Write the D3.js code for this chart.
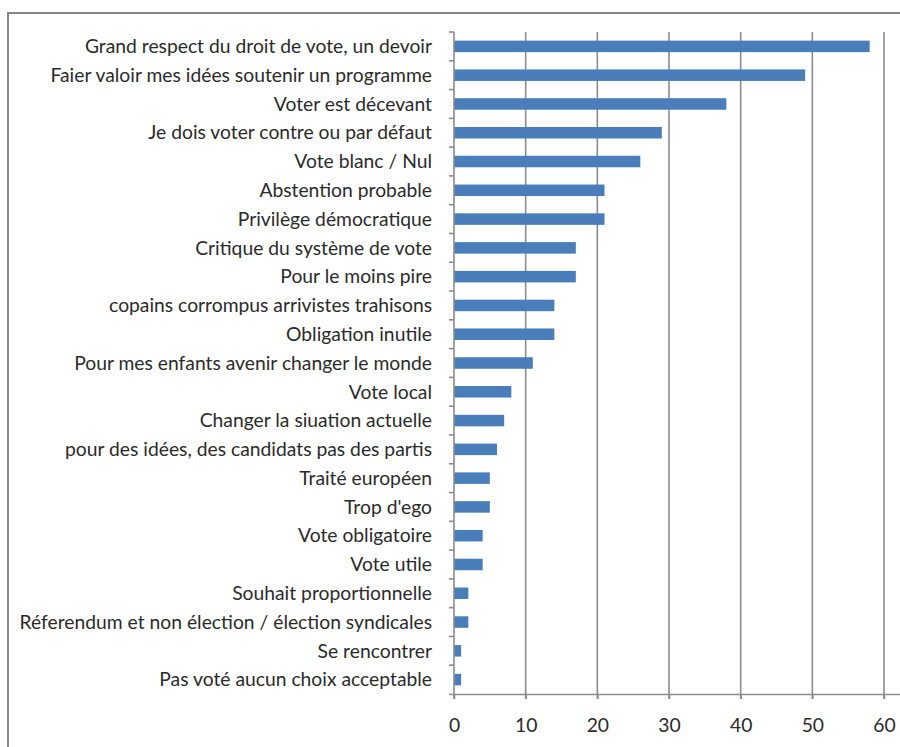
<!DOCTYPE html>
<html>
<head>
<meta charset="utf-8">
<script src="https://cdn.jsdelivr.net/npm/d3@7"></script>
<style>
  body { margin: 0; background: #fff; }
  svg { display: block; }
  .lbl { font-family: Lato, sans-serif; font-size: 19.3px; fill: #2b2b2b; }
</style>
</head>
<body>
<svg id="graph" width="900" height="747"></svg>
<script>
(function() {
// categories top to bottom
const categories = [
  'Grand respect du droit de vote, un devoir',
  'Faier valoir mes  idées soutenir un programme',
  'Voter est décevant',
  'Je dois voter contre ou par défaut',
  'Vote blanc / Nul',
  'Abstention probable',
  'Privilège démocratique',
  'Critique du système de vote',
  'Pour le moins pire',
  'copains corrompus arrivistes trahisons',
  'Obligation inutile',
  'Pour mes enfants avenir changer le monde',
  'Vote local',
  'Changer la siuation actuelle',
  'pour des idées, des candidats  pas des partis',
  'Traité européen',
  "Trop d'ego",
  'Vote obligatoire',
  'Vote utile',
  'Souhait proportionnelle',
  'Réferendum et non élection / élection syndicales',
  'Se rencontrer',
  'Pas voté  aucun choix acceptable'
];
const values = [58, 49, 38, 29, 26, 21, 21, 17, 17, 14, 14, 11, 8, 7, 6, 5, 5, 4, 4, 2, 2, 1, 1];
const x_ticks = [0, 10, 20, 30, 40, 50, 60];

const svg = d3.select('#graph');
const left = 454, right = 884, top = 32, bottom = 694;

// frame
svg.append('path')
  .attr('d', 'M8,747 V13 H900')
  .attr('fill', 'none')
  .attr('stroke', '#858585')
  .attr('stroke-width', 2);

const x = d3.scaleLinear().domain([0, 60]).range([left, right]);
const y = d3.scaleBand().domain(categories).range([top, bottom]).paddingInner(0.6).paddingOuter(0.3);
const step = y.step();

// gridlines
svg.append('g')
  .selectAll('line')
  .data(x_ticks.slice(1))
  .join('line')
  .attr('x1', d => x(d)).attr('x2', d => x(d))
  .attr('y1', top).attr('y2', bottom + 5)
  .attr('stroke', '#8c8c8c')
  .attr('stroke-width', 1.6);

// bars
svg.append('g')
  .selectAll('rect')
  .data(values)
  .join('rect')
  .attr('x', x(0))
  .attr('y', (d, i) => y(categories[i]))
  .attr('width', d => x(d) - x(0))
  .attr('height', y.bandwidth())
  .attr('fill', '#4a7ebb');

// y axis line + category ticks
svg.append('line')
  .attr('x1', left).attr('x2', left)
  .attr('y1', top).attr('y2', bottom + 5)
  .attr('stroke', '#8c8c8c').attr('stroke-width', 1.6);
svg.append('g')
  .selectAll('line')
  .data(d3.range(categories.length))
  .join('line')
  .attr('x1', left - 5).attr('x2', left)
  .attr('y1', i => top + i * step).attr('y2', i => top + i * step)
  .attr('stroke', '#8c8c8c').attr('stroke-width', 1.6);

// x axis
const x_axis = svg.append('g')
  .attr('transform', `translate(0, ${bottom})`)
  .call(d3.axisBottom(x).tickValues(x_ticks).tickSize(5).tickSizeOuter(0).tickPadding(19));
x_axis.select('.domain').attr('stroke', '#8c8c8c').attr('stroke-width', 1.6)
  .attr('d', `M${left - 5},0.5H${right + 16}`);
x_axis.selectAll('.tick line').attr('stroke', '#8c8c8c').attr('stroke-width', 1.6);
x_axis.selectAll('.tick text').attr('class', 'lbl').attr('fill', '#2b2b2b');

// category labels
svg.append('g')
  .selectAll('text')
  .data(categories)
  .join('text')
  .attr('class', 'lbl')
  .attr('x', 432)
  .attr('y', d => y(d) + y.bandwidth() / 2)
  .attr('dy', '0.35em')
  .attr('text-anchor', 'end')
  .text(d => d);
})();
</script>
</body>
</html>
